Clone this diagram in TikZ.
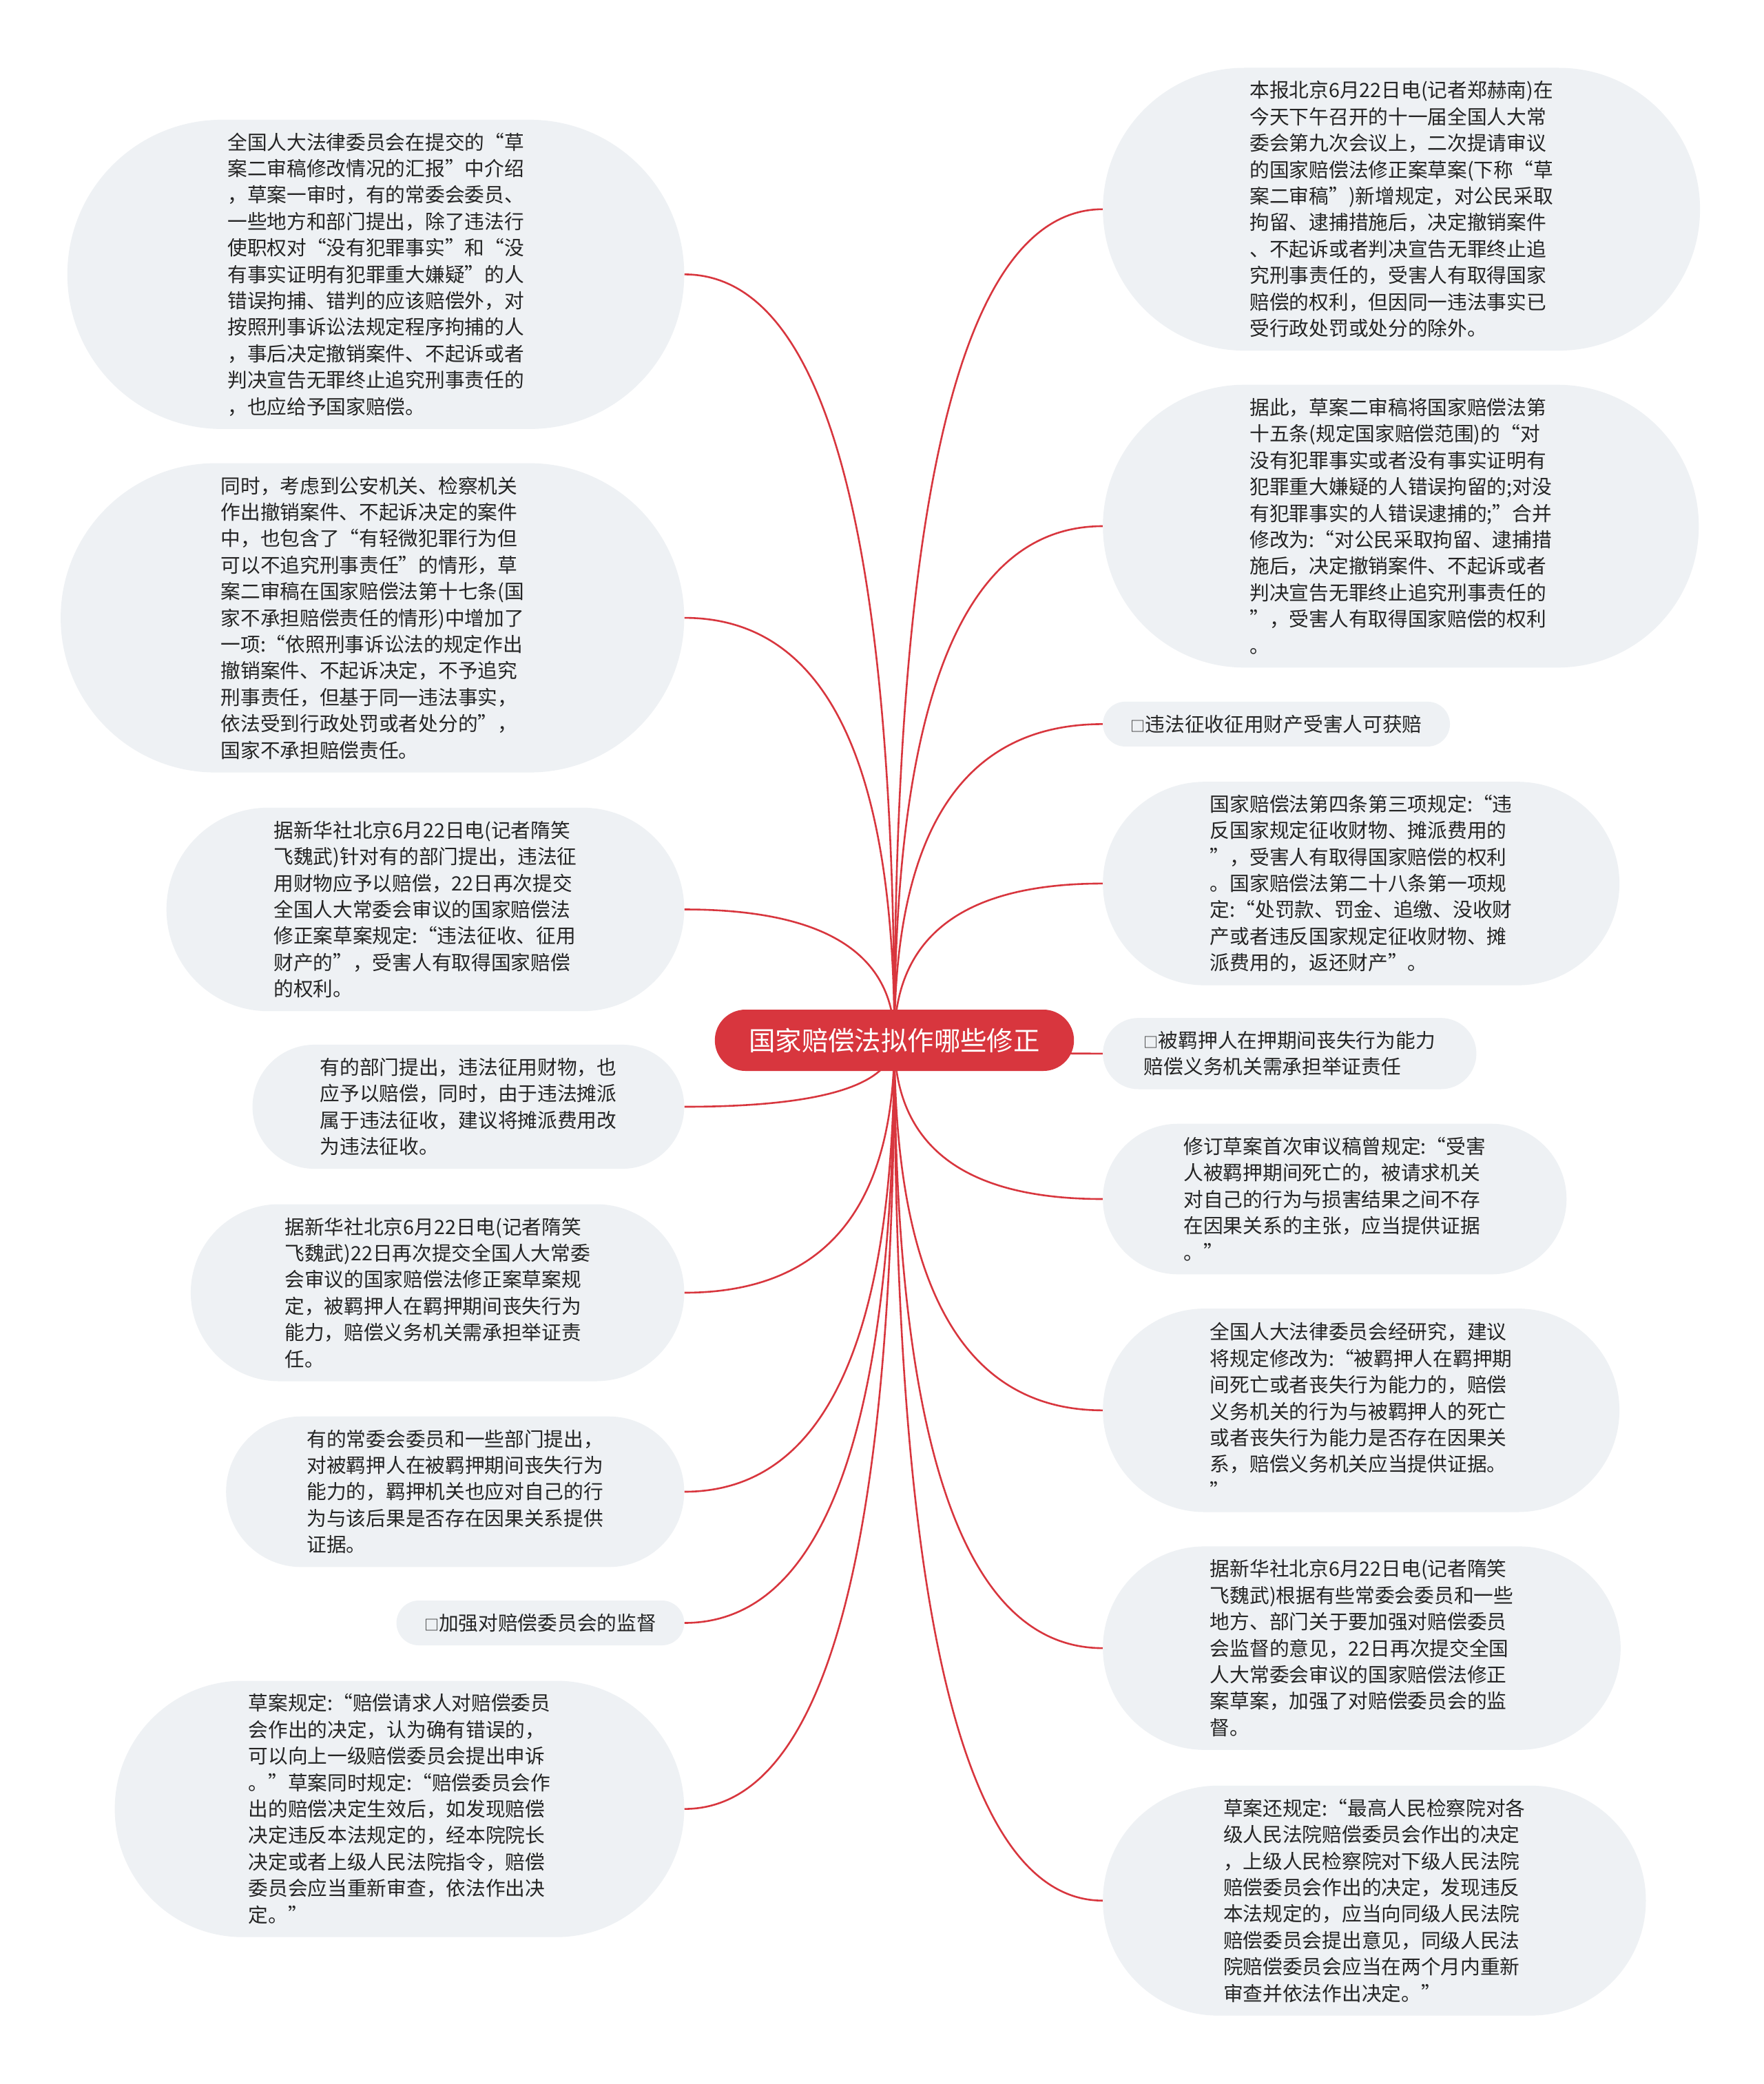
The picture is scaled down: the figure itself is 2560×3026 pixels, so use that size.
\documentclass[tikz,border=0pt]{standalone}
\usepackage{fontspec}
\newfontfamily\cjk{Noto Sans CJK SC}
\usetikzlibrary{calc}
\definecolor{nodefill}{RGB}{238,241,244}
\definecolor{mainred}{RGB}{216,54,62}
\definecolor{txtcol}{RGB}{36,36,36}
\pgfdeclarelayer{back}
\pgfdeclarelayer{bg}
\pgfsetlayers{back,bg,main}
\newcommand\sqmark{{\fontsize{21}{21}\selectfont □}}
\tikzset{
  leaf/.style={rectangle, fill=nodefill, text=txtcol,
    font=\cjk\fontsize{28.7}{38.4}\selectfont, align=left,
    inner ysep=0pt, minimum height={(#1-1)*38.4+65},
    inner xsep={8+((#1-1)*38.4+65)/2},
    rounded corners={((#1-1)*38.4+65)/2-0.05}},
  root/.style={rectangle, fill=mainred, text=white,
    font=\cjk\fontsize{38.4}{46}\selectfont,
    inner ysep=0pt, minimum height=89, inner xsep=49.5, rounded corners=44.4},
  conn/.style={draw=mainred, line width=2.6pt},
}
\newcommand\mmlink[1]{\draw[conn] (c.center) .. controls ($(c.center)!2/3!(c.center |- #1)$) and ($(#1)!2/3!(c.center |- #1)$) .. (#1);}
\begin{document}
\begin{tikzpicture}[x=1pt,y=-1pt]
\useasboundingbox (0,0) rectangle (2560,3026);
\begin{pgfonlayer}{back}
\fill[white] (0,0) rectangle (2560,3026);
\end{pgfonlayer}

\node[root] (c) at (1298.5,1510.5) {国家赔偿法拟作哪些修正};

% left side
\node[leaf=11, anchor=east] (l1) at (993.5,398.4) {全国人大法律委员会在提交的“草\\案二审稿修改情况的汇报”中介绍\\，草案一审时，有的常委会委员、\\一些地方和部门提出，除了违法行\\使职权对“没有犯罪事实”和“没\\有事实证明有犯罪重大嫌疑”的人\\错误拘捕、错判的应该赔偿外，对\\按照刑事诉讼法规定程序拘捕的人\\，事后决定撤销案件、不起诉或者\\判决宣告无罪终止追究刑事责任的\\，也应给予国家赔偿。};
\node[leaf=11, anchor=east] (l2) at (993.5,897.1) {同时，考虑到公安机关、检察机关\\作出撤销案件、不起诉决定的案件\\中，也包含了“有轻微犯罪行为但\\可以不追究刑事责任”的情形，草\\案二审稿在国家赔偿法第十七条(国\\家不承担赔偿责任的情形)中增加了\\一项:“依照刑事诉讼法的规定作出\\撤销案件、不起诉决定，不予追究\\刑事责任，但基于同一违法事实，\\依法受到行政处罚或者处分的”，\\国家不承担赔偿责任。};
\node[leaf=7, anchor=east] (l3) at (993.5,1320.5) {据新华社北京6月22日电(记者隋笑\\飞魏武)针对有的部门提出，违法征\\用财物应予以赔偿，22日再次提交\\全国人大常委会审议的国家赔偿法\\修正案草案规定:“违法征收、征用\\财产的”，受害人有取得国家赔偿\\的权利。};
\node[leaf=4, anchor=east] (l4) at (993.5,1607) {有的部门提出，违法征用财物，也\\应予以赔偿，同时，由于违法摊派\\属于违法征收，建议将摊派费用改\\为违法征收。};
\node[leaf=6, anchor=east] (l5) at (993.5,1877) {据新华社北京6月22日电(记者隋笑\\飞魏武)22日再次提交全国人大常委\\会审议的国家赔偿法修正案草案规\\定，被羁押人在羁押期间丧失行为\\能力，赔偿义务机关需承担举证责\\任。};
\node[leaf=5, anchor=east] (l6) at (993.5,2166) {有的常委会委员和一些部门提出，\\对被羁押人在被羁押期间丧失行为\\能力的，羁押机关也应对自己的行\\为与该后果是否存在因果关系提供\\证据。};
\node[leaf=1, anchor=east] (l7) at (993.5,2356.5) {\sqmark 加强对赔偿委员会的监督};
\node[leaf=9, anchor=east] (l8) at (993.5,2626.6) {草案规定:“赔偿请求人对赔偿委员\\会作出的决定，认为确有错误的，\\可以向上一级赔偿委员会提出申诉\\。”草案同时规定:“赔偿委员会作\\出的赔偿决定生效后，如发现赔偿\\决定违反本法规定的，经本院院长\\决定或者上级人民法院指令，赔偿\\委员会应当重新审查，依法作出决\\定。”};

% right side
\node[leaf=10, anchor=west] (r1) at (1601,303.8) {本报北京6月22日电(记者郑赫南)在\\今天下午召开的十一届全国人大常\\委会第九次会议上，二次提请审议\\的国家赔偿法修正案草案(下称“草\\案二审稿”)新增规定，对公民采取\\拘留、逮捕措施后，决定撤销案件\\、不起诉或者判决宣告无罪终止追\\究刑事责任的，受害人有取得国家\\赔偿的权利，但因同一违法事实已\\受行政处罚或处分的除外。};
\node[leaf=10, anchor=west] (r2) at (1601,764) {据此，草案二审稿将国家赔偿法第\\十五条(规定国家赔偿范围)的“对\\没有犯罪事实或者没有事实证明有\\犯罪重大嫌疑的人错误拘留的;对没\\有犯罪事实的人错误逮捕的;”合并\\修改为:“对公民采取拘留、逮捕措\\施后，决定撤销案件、不起诉或者\\判决宣告无罪终止追究刑事责任的\\”，受害人有取得国家赔偿的权利\\。};
\node[leaf=1, anchor=west] (r3) at (1601,1051.4) {\sqmark 违法征收征用财产受害人可获赔};
\node[leaf=7, anchor=west] (r4) at (1601,1282.9) {国家赔偿法第四条第三项规定:“违\\反国家规定征收财物、摊派费用的\\”，受害人有取得国家赔偿的权利\\。国家赔偿法第二十八条第一项规\\定:“处罚款、罚金、追缴、没收财\\产或者违反国家规定征收财物、摊\\派费用的，返还财产”。};
\node[leaf=2, anchor=west] (r5) at (1601,1529.8) {\sqmark 被羁押人在押期间丧失行为能力\\赔偿义务机关需承担举证责任};
\node[leaf=5, anchor=west] (r6) at (1601,1741) {修订草案首次审议稿曾规定:“受害\\人被羁押期间死亡的，被请求机关\\对自己的行为与损害结果之间不存\\在因果关系的主张，应当提供证据\\。”};
\node[leaf=7, anchor=west] (r7) at (1601,2047.8) {全国人大法律委员会经研究，建议\\将规定修改为:“被羁押人在羁押期\\间死亡或者丧失行为能力的，赔偿\\义务机关的行为与被羁押人的死亡\\或者丧失行为能力是否存在因果关\\系，赔偿义务机关应当提供证据。\\”};
\node[leaf=7, anchor=west] (r8) at (1601,2393.1) {据新华社北京6月22日电(记者隋笑\\飞魏武)根据有些常委会委员和一些\\地方、部门关于要加强对赔偿委员\\会监督的意见，22日再次提交全国\\人大常委会审议的国家赔偿法修正\\案草案，加强了对赔偿委员会的监\\督。};
\node[leaf=8, anchor=west] (r9) at (1601,2759.7) {草案还规定:“最高人民检察院对各\\级人民法院赔偿委员会作出的决定\\，上级人民检察院对下级人民法院\\赔偿委员会作出的决定，发现违反\\本法规定的，应当向同级人民法院\\赔偿委员会提出意见，同级人民法\\院赔偿委员会应当在两个月内重新\\审查并依法作出决定。”};

\begin{pgfonlayer}{bg}
\mmlink{l1.east}\mmlink{l2.east}\mmlink{l3.east}\mmlink{l4.east}
\mmlink{l5.east}\mmlink{l6.east}\mmlink{l7.east}\mmlink{l8.east}
\mmlink{r1.west}\mmlink{r2.west}\mmlink{r3.west}\mmlink{r4.west}
\mmlink{r5.west}\mmlink{r6.west}\mmlink{r7.west}\mmlink{r8.west}
\mmlink{r9.west}
\end{pgfonlayer}
\end{tikzpicture}
\end{document}
